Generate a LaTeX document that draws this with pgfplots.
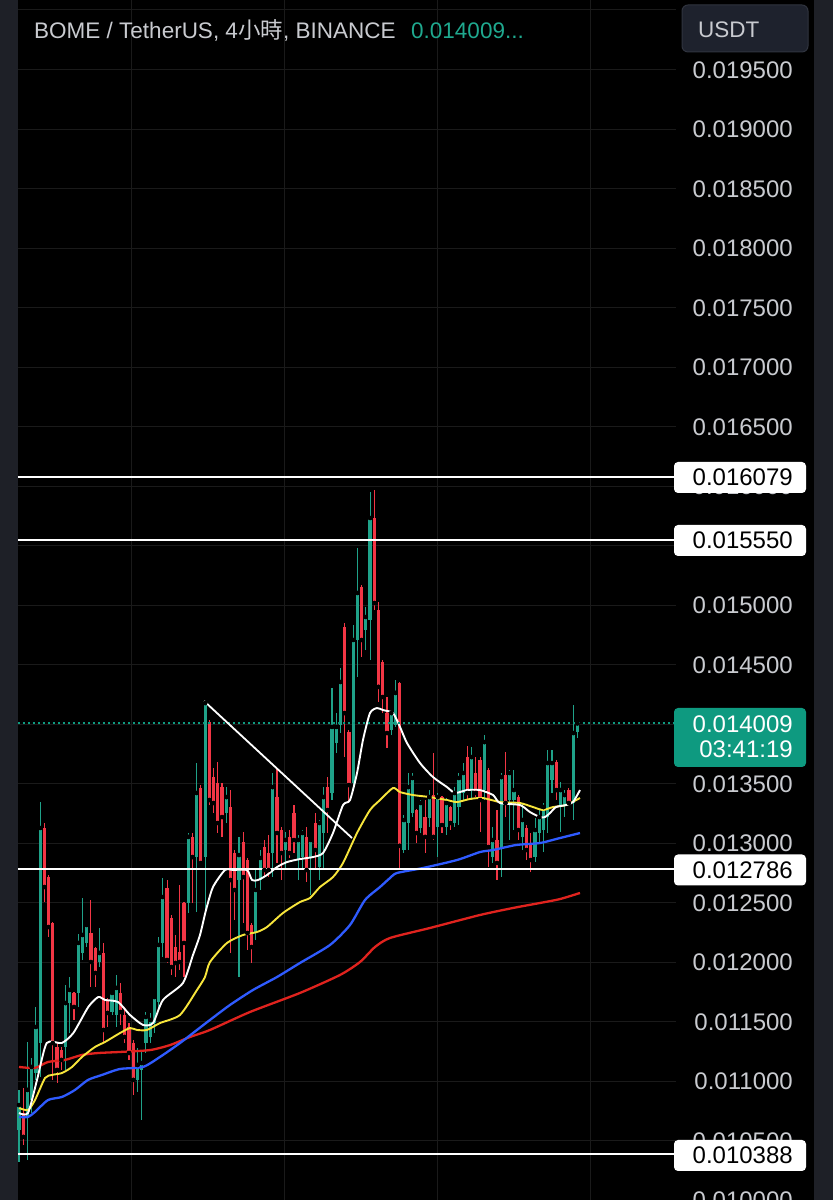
\documentclass[border=0pt]{standalone}
\usepackage{pgfplots}
\pgfplotsset{compat=1.18}
\usepackage{pgfplotstable}
\usepackage{fontspec}
\setmainfont{Liberation Sans}
\newfontfamily\cjk{Noto Sans CJK TC}
\definecolor{up}{HTML}{1FA289}
\definecolor{down}{HTML}{F23645}
\definecolor{maY}{HTML}{F7E53B}
\definecolor{maB}{HTML}{2F5BFF}
\definecolor{maR}{HTML}{E0231E}
\definecolor{gridc}{HTML}{1A1A1A}
\definecolor{strip}{HTML}{1E2027}
\definecolor{lbl}{HTML}{C9CBD0}
\definecolor{pxteal}{HTML}{0E9A80}
\definecolor{pxtealtxt}{HTML}{1FA98F}
\definecolor{usdtbg}{HTML}{1E222D}
\definecolor{usdtbd}{HTML}{30343F}

\pgfplotstableread{
i O H L C
0 0.010592 0.010929 0.010324 0.010802
2 0.010702 0.011332 0.010340 0.010929
3 0.010844 0.011197 0.010735 0.011122
4 0.011071 0.011626 0.011013 0.011458
5 0.011323 0.013348 0.011038 0.013130
11 0.011290 0.011811 0.011097 0.011659
12 0.011659 0.011878 0.011407 0.011769
14 0.011744 0.012239 0.011626 0.012164
15 0.012080 0.012542 0.012021 0.012231
16 0.012164 0.012332 0.012130 0.012315
19 0.012004 0.012290 0.011962 0.012080
22 0.011584 0.011752 0.011559 0.011744
23 0.011559 0.011895 0.011458 0.011786
28 0.011013 0.011281 0.010912 0.011139
29 0.011097 0.011248 0.010676 0.011155
30 0.011323 0.011584 0.011239 0.011542
31 0.011374 0.011576 0.011323 0.011517
32 0.011491 0.011727 0.011407 0.011710
33 0.011668 0.012214 0.011601 0.012147
34 0.012164 0.012710 0.012046 0.012550
40 0.012500 0.013088 0.012416 0.013055
42 0.012886 0.013676 0.012424 0.013424
44 0.012886 0.014197 0.012441 0.014180
49 0.013256 0.013474 0.013172 0.013390
52 0.012693 0.013055 0.011878 0.012903
56 0.012248 0.012777 0.012189 0.012609
57 0.012693 0.012945 0.012609 0.012878
60 0.012920 0.013592 0.012718 0.013474
63 0.012945 0.013096 0.012777 0.013029
66 0.012861 0.013071 0.012693 0.013029
67 0.012886 0.013113 0.012794 0.013088
69 0.012886 0.013046 0.012567 0.013029
71 0.012802 0.013197 0.012693 0.013172
72 0.013088 0.013474 0.012777 0.013390
74 0.013424 0.014307 0.013365 0.013979
75 0.013844 0.014096 0.013760 0.013979
76 0.013996 0.014475 0.013928 0.014357
79 0.013508 0.014836 0.013474 0.014710
80 0.014710 0.015483 0.014399 0.015105
82 0.014794 0.014987 0.014626 0.014903
83 0.014878 0.015954 0.014542 0.015735
88 0.013954 0.014105 0.013912 0.014096
89 0.013996 0.014374 0.013979 0.014265
91 0.012945 0.013239 0.012920 0.013197
92 0.013172 0.013592 0.012945 0.013474
93 0.013256 0.013592 0.013222 0.013550
95 0.013130 0.013365 0.013088 0.013340
97 0.013214 0.013449 0.013138 0.013390
99 0.013138 0.013424 0.012886 0.013390
101 0.013138 0.013382 0.013071 0.013340
103 0.013172 0.013474 0.013138 0.013424
104 0.013306 0.013592 0.013155 0.013550
105 0.013424 0.013676 0.013365 0.013592
107 0.013449 0.013811 0.013365 0.013726
110 0.013449 0.013912 0.013365 0.013852
112 0.012886 0.013138 0.012836 0.013029
114 0.012970 0.013592 0.012718 0.013558
116 0.013365 0.013617 0.013029 0.013592
117 0.013365 0.013617 0.013113 0.013449
119 0.013055 0.013340 0.012945 0.013197
122 0.012886 0.013214 0.012844 0.013113
123 0.013088 0.013281 0.013004 0.013222
124 0.013113 0.013340 0.012928 0.013306
125 0.013222 0.013785 0.013088 0.013676
126 0.013533 0.013785 0.013424 0.013676
128 0.013306 0.013516 0.013096 0.013449
129 0.013323 0.013449 0.013222 0.013407
131 0.013340 0.014163 0.013197 0.013928
132 0.013937 0.014030 0.013886 0.014009
}\upc

\pgfplotstableread{
i O H L C
1 0.010735 0.010945 0.010466 0.010534
6 0.013130 0.013172 0.012508 0.012634
7 0.012718 0.012735 0.012214 0.012298
8 0.012332 0.012340 0.011013 0.011323
9 0.011290 0.011323 0.010987 0.011097
10 0.011264 0.011290 0.011097 0.011181
13 0.011744 0.011750 0.011517 0.011626
17 0.012248 0.012525 0.011794 0.012004
18 0.012122 0.012130 0.011794 0.011912
20 0.012080 0.012164 0.011323 0.011433
21 0.011685 0.011702 0.011458 0.011576
24 0.011744 0.011828 0.011475 0.011584
25 0.011559 0.011626 0.011323 0.011374
26 0.011458 0.011491 0.011181 0.011239
27 0.011323 0.011349 0.010886 0.011013
35 0.012626 0.012693 0.011996 0.012021
36 0.012374 0.012399 0.011895 0.011962
37 0.012130 0.012231 0.011878 0.011996
38 0.012088 0.012651 0.011937 0.012004
39 0.012500 0.012508 0.011878 0.012164
41 0.013055 0.013088 0.012500 0.012886
43 0.013466 0.013491 0.012820 0.012836
45 0.014021 0.014038 0.013323 0.013365
46 0.013558 0.013634 0.013256 0.013340
47 0.013508 0.013684 0.013088 0.013172
48 0.013474 0.013508 0.013055 0.013222
50 0.013306 0.013449 0.012080 0.012693
51 0.012920 0.012945 0.012357 0.012609
53 0.013012 0.013096 0.012332 0.012718
54 0.012861 0.012878 0.012105 0.012248
55 0.012315 0.012332 0.011996 0.012130
58 0.012970 0.013029 0.012718 0.012777
59 0.012920 0.013071 0.012718 0.012777
61 0.013390 0.013634 0.012836 0.013088
62 0.013113 0.013138 0.012693 0.012920
64 0.013055 0.013113 0.012878 0.012920
65 0.013256 0.013323 0.012920 0.013029
68 0.013055 0.013138 0.012676 0.012777
70 0.013172 0.013256 0.012777 0.012945
73 0.013474 0.013558 0.013088 0.013281
77 0.014819 0.014853 0.013726 0.014096
78 0.013937 0.013954 0.013340 0.013491
81 0.015155 0.015170 0.014567 0.014710
84 0.015735 0.015971 0.014962 0.015021
85 0.014962 0.015029 0.014188 0.014316
86 0.014525 0.014542 0.014096 0.014231
87 0.014096 0.014231 0.013802 0.013928
90 0.014349 0.014357 0.012777 0.012980
94 0.013281 0.013290 0.013004 0.013088
96 0.013222 0.013365 0.012920 0.013055
98 0.013407 0.013760 0.013029 0.013055
100 0.013390 0.013400 0.013088 0.013155
102 0.013306 0.013315 0.013113 0.013172
106 0.013726 0.013819 0.013365 0.013424
108 0.013592 0.013726 0.013390 0.013424
109 0.013701 0.013726 0.013096 0.013365
111 0.013617 0.013634 0.012802 0.012970
113 0.013029 0.013281 0.012693 0.012836
115 0.013575 0.013769 0.013222 0.013340
118 0.013390 0.013407 0.013029 0.013113
120 0.013130 0.013155 0.012861 0.012945
121 0.013004 0.013088 0.012760 0.012861
127 0.013684 0.013701 0.013365 0.013449
130 0.013449 0.013466 0.013323 0.013340
}\downc

\tikzset{pix/.style={x=1bp, y=-1bp, shift={(0bp,1200bp)}}}

\begin{document}
\begin{tikzpicture}
% background and grid
\begin{scope}[pix]
\fill[black] (0,0) rectangle (833,1200);
\fill[strip] (0,0) rectangle (18,1200);
\fill[strip] (814,0) rectangle (833,1200);
\draw[gridc, line width=1bp] (18,10) -- (676,10);
\foreach \gx in {131,284,437,590} \draw[gridc, line width=1bp] (\gx,0) -- (\gx,1200);
\foreach \k in {0,...,18} \draw[gridc, line width=1bp] (18,{70+59.5*\k}) -- (676,{70+59.5*\k});
\end{scope}

\begin{axis}[
  at={(0,0)}, anchor=south west, name=ax,
  scale only axis, width=833bp, height=1200bp,
  xmin=-4.4917, xmax=192.435, ymin=0.010004, ymax=0.020088,
  axis lines=none, clip=true,
]
% wicks
\addplot[only marks, mark=none, error bars/.cd, y dir=both, y explicit, error mark=none,
  error bar style={draw=up, solid, line width=1.1bp}]
  table[x=i, y=C, y error plus expr=\thisrow{H}-\thisrow{C}, y error minus expr=\thisrow{C}-\thisrow{L}] {\upc};
\addplot[only marks, mark=none, error bars/.cd, y dir=both, y explicit, error mark=none,
  error bar style={draw=down, solid, line width=1.1bp}]
  table[x=i, y=C, y error plus expr=\thisrow{H}-\thisrow{C}, y error minus expr=\thisrow{C}-\thisrow{L}] {\downc};
% bodies
\addplot[only marks, mark=none, error bars/.cd, y dir=both, y explicit, error mark=none,
  error bar style={draw=up, solid, line width=3.2bp}]
  table[x=i, y=C, y error plus expr=0, y error minus expr=\thisrow{C}-\thisrow{O}] {\upc};
\addplot[only marks, mark=none, error bars/.cd, y dir=both, y explicit, error mark=none,
  error bar style={draw=down, solid, line width=3.2bp}]
  table[x=i, y=C, y error plus expr=\thisrow{O}-\thisrow{C}, y error minus expr=0] {\downc};

% moving averages
\addplot[maR, line width=2.3bp, line join=round, smooth, tension=0.4] coordinates {
(0,0.011122) (3.78,0.011114) (6.86,0.011164) (10.87,0.011181) (14.89,0.011223) (18.68,0.011239)
(23.88,0.011248) (30.97,0.011264) (35.70,0.011306) (40.43,0.011374) (45.15,0.011433) (54.61,0.011584)
(66.43,0.011744) (75.89,0.011895) (80.61,0.012004) (84.16,0.012130) (87.71,0.012206) (97.16,0.012290)
(108.98,0.012399) (116.78,0.012458) (123.17,0.012500) (127.90,0.012533) (132.62,0.012584)};
\addplot[maB, line width=2.3bp, line join=round, smooth, tension=0.4] coordinates {
(0,0.010702) (2.13,0.010702) (3.78,0.010744) (6.86,0.010844) (10.17,0.010870) (13.24,0.010929)
(16.31,0.011013) (19.62,0.011055) (23.88,0.011105) (29.31,0.011122) (33.33,0.011206) (38.06,0.011323)
(42.08,0.011433) (45.15,0.011517) (49.88,0.011643) (55.32,0.011769) (61.00,0.011878) (66.43,0.011996)
(73.52,0.012147) (78.25,0.012315) (81.80,0.012525) (85.34,0.012634) (87.71,0.012710) (89.36,0.012752)
(95.51,0.012794) (103.55,0.012861) (108.98,0.012928) (112.06,0.012945) (117.49,0.012987)
(123.17,0.013004) (127.90,0.013046) (132.62,0.013088)};
\addplot[maY, line width=1.9bp, line join=round, smooth, tension=0.4] coordinates {
(0,0.010777) (2.13,0.010760) (3.78,0.010844) (6.15,0.011029) (7.80,0.011055) (10.17,0.011071)
(12.53,0.011122) (14.89,0.011206) (17.97,0.011290) (20.33,0.011332) (23.88,0.011407) (26.24,0.011449)
(27.90,0.011433) (30.26,0.011433) (33.33,0.011491) (38.06,0.011559) (42.08,0.011769) (43.97,0.011878)
(45.15,0.012004) (49.17,0.012164) (52.96,0.012231) (56.26,0.012256) (58.63,0.012298) (62.41,0.012416)
(66.43,0.012508) (68.79,0.012542) (71.16,0.012634) (74.23,0.012718) (76.60,0.012836) (79.91,0.013088)
(82.98,0.013281) (85.34,0.013365) (88.42,0.013466) (90.07,0.013432) (93.14,0.013407) (97.16,0.013390)
(101.18,0.013365) (103.55,0.013348) (106.62,0.013374) (109.69,0.013382) (113.71,0.013348)
(118.44,0.013340) (121.51,0.013306) (123.88,0.013281) (126.24,0.013306) (129.31,0.013323) (132.62,0.013382)};
\addplot[white, line width=1.9bp, line join=round, smooth, tension=0.4] coordinates {
(0,0.010735) (2.13,0.010735) (4.26,0.011013) (6.55,0.011323) (10.09,0.011323) (12.84,0.011407)
(16.38,0.011626) (18.75,0.011710) (20.33,0.011685) (23.40,0.011668) (26.24,0.011559) (29.31,0.011475)
(31.68,0.011491) (34.04,0.011685) (38.77,0.011828) (41.13,0.012063) (42.79,0.012231) (44.21,0.012441)
(45.86,0.012634) (48.70,0.012777) (50.59,0.012777) (53.90,0.012777) (55.08,0.012693) (56.50,0.012693)
(58.63,0.012735) (61.00,0.012802) (63.36,0.012844) (66.43,0.012869) (69.50,0.012886) (71.87,0.012920)
(74.23,0.013088) (76.60,0.013323) (78.25,0.013365) (79.91,0.013592) (81.32,0.013870) (82.98,0.014096)
(84.63,0.014138) (86.05,0.014121) (88.42,0.014096) (90.07,0.013979) (91.73,0.013844) (94.80,0.013676)
(97.87,0.013558) (101.18,0.013474) (103.07,0.013424) (105.91,0.013449) (108.98,0.013449)
(112.06,0.013407) (113.71,0.013340) (118.44,0.013323) (120.80,0.013264) (123.17,0.013222)
(124.35,0.013222) (125.53,0.013256) (126.95,0.013306) (129.31,0.013323) (130.97,0.013348) (132.62,0.013449)};

% horizontal levels
\addplot[white, line width=2bp] coordinates {(-0.24,0.016079) (155,0.016079)};
\addplot[white, line width=2bp] coordinates {(-0.24,0.015550) (155,0.015550)};
\addplot[white, line width=2bp] coordinates {(-0.24,0.012786) (155,0.012786)};
\addplot[white, line width=2bp] coordinates {(-0.24,0.010388) (155,0.010388)};
% current price
\addplot[pxteal, line width=2bp, dash pattern=on 2bp off 3bp] coordinates {(-0.24,0.014009) (155,0.014009)};
% trend line
\addplot[white, line width=1.8bp] coordinates {(43.74,0.014197) (78.72,0.013046)};
\end{axis}

% price scale and header
\begin{scope}[pix, every node/.style={inner sep=0pt}]
\foreach \v/\y in {0.019500/70, 0.019000/129.5, 0.018500/189, 0.018000/248.5, 0.017500/308,
  0.017000/367.5, 0.016500/427, 0.016000/486.5, 0.015500/546, 0.015000/605.5, 0.014500/665,
  0.014000/724.5, 0.013500/784, 0.013000/843.5, 0.012500/903, 0.012000/962.5, 0.011500/1022,
  0.011000/1081.5, 0.010500/1141, 0.010000/1200.5}
  \node[anchor=east, text=lbl, font=\fontsize{24bp}{28bp}\selectfont] at (793,\y) {\v};
% level labels
\foreach \v/\y in {0.016079/477.5, 0.015550/540.5, 0.012786/870, 0.010388/1155.5} {
  \fill[white, rounded corners=4bp] (674,\y-15.5) rectangle (806,\y+15.5);
  \node[anchor=east, text=black, font=\fontsize{24bp}{28bp}\selectfont] at (793,\y) {\v};
}
\fill[pxteal, rounded corners=4bp] (674,708) rectangle (806,767);
\node[anchor=east, text=white, font=\fontsize{24bp}{28bp}\selectfont] at (793,724.5) {0.014009};
\node[anchor=east, text=white, font=\fontsize{24bp}{28bp}\selectfont] at (793,749.5) {03:41:19};
% header
\node[anchor=base west, text=lbl, font=\fontsize{22.5bp}{26bp}\selectfont] at (34,39) {BOME / TetherUS, 4{\cjk 小時}, BINANCE};
\node[anchor=base west, text=pxtealtxt, font=\fontsize{22.5bp}{26bp}\selectfont] at (411,39) {0.014009...};
\filldraw[fill=usdtbg, draw=usdtbd, line width=1bp, rounded corners=6bp] (682,5) rectangle (808,52);
\node[anchor=base west, text=lbl, font=\fontsize{22.5bp}{26bp}\selectfont] at (698,38) {USDT};
\end{scope}

\pgfresetboundingbox
\path[use as bounding box] (0,0) rectangle (833bp,1200bp);
\end{tikzpicture}
\end{document}
